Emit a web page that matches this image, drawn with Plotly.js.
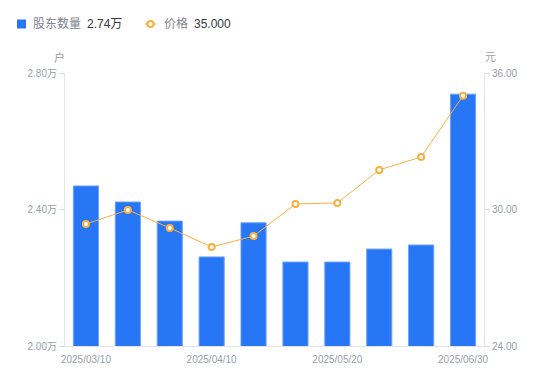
<!DOCTYPE html>
<html>
<head>
<meta charset="utf-8">
<script src="https://cdn.plot.ly/plotly-3.0.1.min.js"></script>
<style>html,body{margin:0;padding:0;background:#fff;}#chart{width:550px;height:381px;}</style>
</head>
<body>
<div id="chart"></div>
<script>
// Data
const dates = ["2025/03/10","2025/03/20","2025/03/31","2025/04/10","2025/04/20","2025/04/30","2025/05/20","2025/05/31","2025/06/20","2025/06/30"];
const holders = [2.469, 2.422, 2.366, 2.261, 2.361, 2.246, 2.246, 2.284, 2.296, 2.738]; // 万户
const prices = [29.36, 29.98, 29.19, 28.35, 28.83, 30.24, 30.29, 31.74, 32.31, 35.00]; // 元
const shownDates = ["2025/03/10","2025/04/10","2025/05/20","2025/06/30"];
const leftTicks = [2.00, 2.40, 2.80];
const rightTicks = [24, 30, 36];

const W = 550, H = 381, L = 65, R = 484, T = 73, B = 346;
const px = x => (x - L) / (R - L);
const py = y => (B - y) / (B - T);
const FONT = "Liberation Sans, Arial, 'Noto Sans CJK SC', sans-serif";
const BLUE = "#2776f6", ORANGE = "#f8b13f", GREY = "#9a9eab";

const traces = [
  {
    type: "bar", x: dates, y: holders, name: "股东数量",
    marker: {color: BLUE, line: {color: "#6da2f8", width: 1}},
    width: 0.6, yaxis: "y", hoverinfo: "skip"
  },
  {
    type: "scatter", mode: "lines+markers", x: dates, y: prices, name: "价格",
    line: {color: ORANGE, width: 1},
    marker: {color: "#ffffff", size: 6, line: {color: ORANGE, width: 2}},
    yaxis: "y2", hoverinfo: "skip", cliponaxis: false
  }
];

const layout = {
  width: W, height: H,
  margin: {l: L, r: W - R, t: T, b: H - B, pad: 0},
  paper_bgcolor: "#fff", plot_bgcolor: "#fff",
  showlegend: false,
  bargap: 0.4,
  font: {family: FONT, size: 10, color: GREY},
  xaxis: {
    type: "category", categoryorder: "array", categoryarray: dates,
    range: [-0.5, dates.length - 0.5], autorange: false,
    tickvals: shownDates, ticktext: shownDates,
    showline: true, linecolor: "#e3e5ea", linewidth: 1,
    ticks: "", showgrid: false, zeroline: false,
    ticklabelstandoff: 4,
    tickfont: {family: FONT, size: 10, color: GREY},
    fixedrange: true
  },
  yaxis: {
    range: [2.0, 2.8], tickvals: leftTicks,
    ticktext: leftTicks.map(v => v.toFixed(2) + "万"),
    showline: true, linecolor: "#e3e5ea", linewidth: 1,
    ticks: "outside", ticklen: 5, tickcolor: "#d8dbe2", tickwidth: 1,
    showgrid: false, zeroline: false,
    tickfont: {family: FONT, size: 10, color: GREY}
  },
  yaxis2: {
    range: [24, 36], tickvals: rightTicks,
    ticktext: rightTicks.map(v => v.toFixed(2)),
    overlaying: "y", side: "right",
    showline: true, linecolor: "#e3e5ea", linewidth: 1,
    ticks: "outside", ticklen: 5, tickcolor: "#d8dbe2", tickwidth: 1,
    showgrid: false, zeroline: false,
    tickfont: {family: FONT, size: 10, color: GREY}
  },
  shapes: [
    {type: "rect", xref: "paper", yref: "paper", x0: px(17), x1: px(26), y0: py(28.5), y1: py(19.5),
     fillcolor: BLUE, line: {width: 0}},
    {type: "line", xref: "paper", yref: "paper", x0: px(145), x1: px(156), y0: py(24), y1: py(24),
     line: {color: ORANGE, width: 1.5}},
    {type: "circle", xref: "paper", yref: "paper", x0: px(147.5), x1: px(153.5), y0: py(27), y1: py(21),
     fillcolor: "#fff", line: {color: ORANGE, width: 2}}
  ],
  annotations: [
    {xref: "paper", yref: "paper", x: px(31), y: py(24), xanchor: "left", yanchor: "middle", showarrow: false,
     text: "股东数量", font: {family: FONT, size: 12, color: "#80848f"}},
    {xref: "paper", yref: "paper", x: px(85), y: py(24), xanchor: "left", yanchor: "middle", showarrow: false,
     text: "2.74万", font: {family: FONT, size: 12, color: "#333740"}},
    {xref: "paper", yref: "paper", x: px(162), y: py(24), xanchor: "left", yanchor: "middle", showarrow: false,
     text: "价格", font: {family: FONT, size: 12, color: "#80848f"}},
    {xref: "paper", yref: "paper", x: px(192), y: py(24), xanchor: "left", yanchor: "middle", showarrow: false,
     text: "35.000", font: {family: FONT, size: 12, color: "#333740"}},
    {xref: "paper", yref: "paper", x: px(59), y: py(57), xanchor: "center", yanchor: "middle", showarrow: false,
     text: "户", font: {family: FONT, size: 11, color: GREY}},
    {xref: "paper", yref: "paper", x: px(490), y: py(57), xanchor: "center", yanchor: "middle", showarrow: false,
     text: "元", font: {family: FONT, size: 11, color: GREY}}
  ]
};

Plotly.newPlot("chart", traces, layout, {displayModeBar: false, staticPlot: true});
</script>
</body>
</html>
